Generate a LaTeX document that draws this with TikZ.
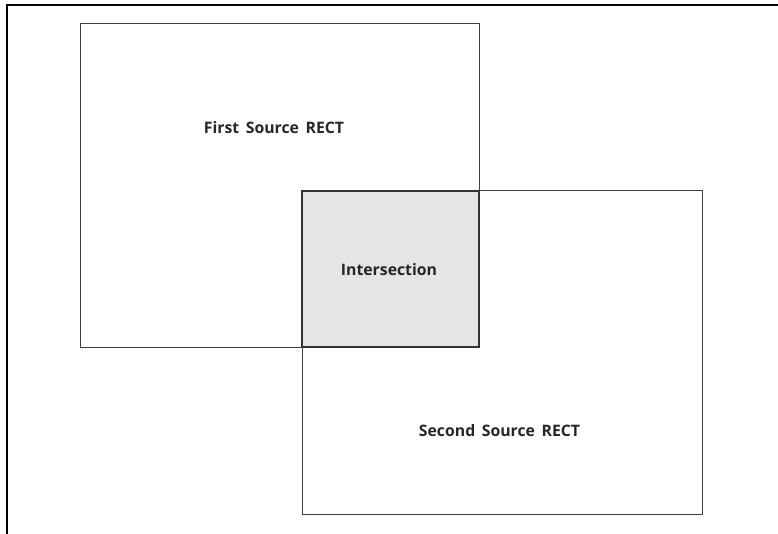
\documentclass[tikz,border=0pt]{standalone}
\usepackage{fontspec}
\setmainfont{Open Sans}[WordSpace=1.6]
\begin{document}
\begin{tikzpicture}[x=1pt,y=-1pt,
  srcrect/.style={draw=black!75, line width=1pt},
  isect/.style={draw=black!80, line width=2pt, fill=black!10},
  lbl/.style={font=\bfseries\fontsize{15.8}{18}\selectfont, text=black!85},
  frameline/.style={draw=black, line width=2pt}]
  \useasboundingbox (0,0) rectangle (778,534);
  % open frame: top and left edges only
  \draw[frameline] (6.5,534) -- (6.5,5.5) -- (778,5.5);
  % the two source rectangles
  \draw[srcrect] (80,24) rectangle (479,347);
  \draw[srcrect] (302,191) rectangle (702,514);
  % overlapping area
  \draw[isect] (302,191) rectangle (479,347);
  % labels
  \node[lbl] (first) at (274,128) {First Source RECT};
  \node[lbl] (inter) at (389,270) {Intersection};
  \node[lbl] (second) at (499.5,431) {Second Source RECT};
\end{tikzpicture}
\end{document}
